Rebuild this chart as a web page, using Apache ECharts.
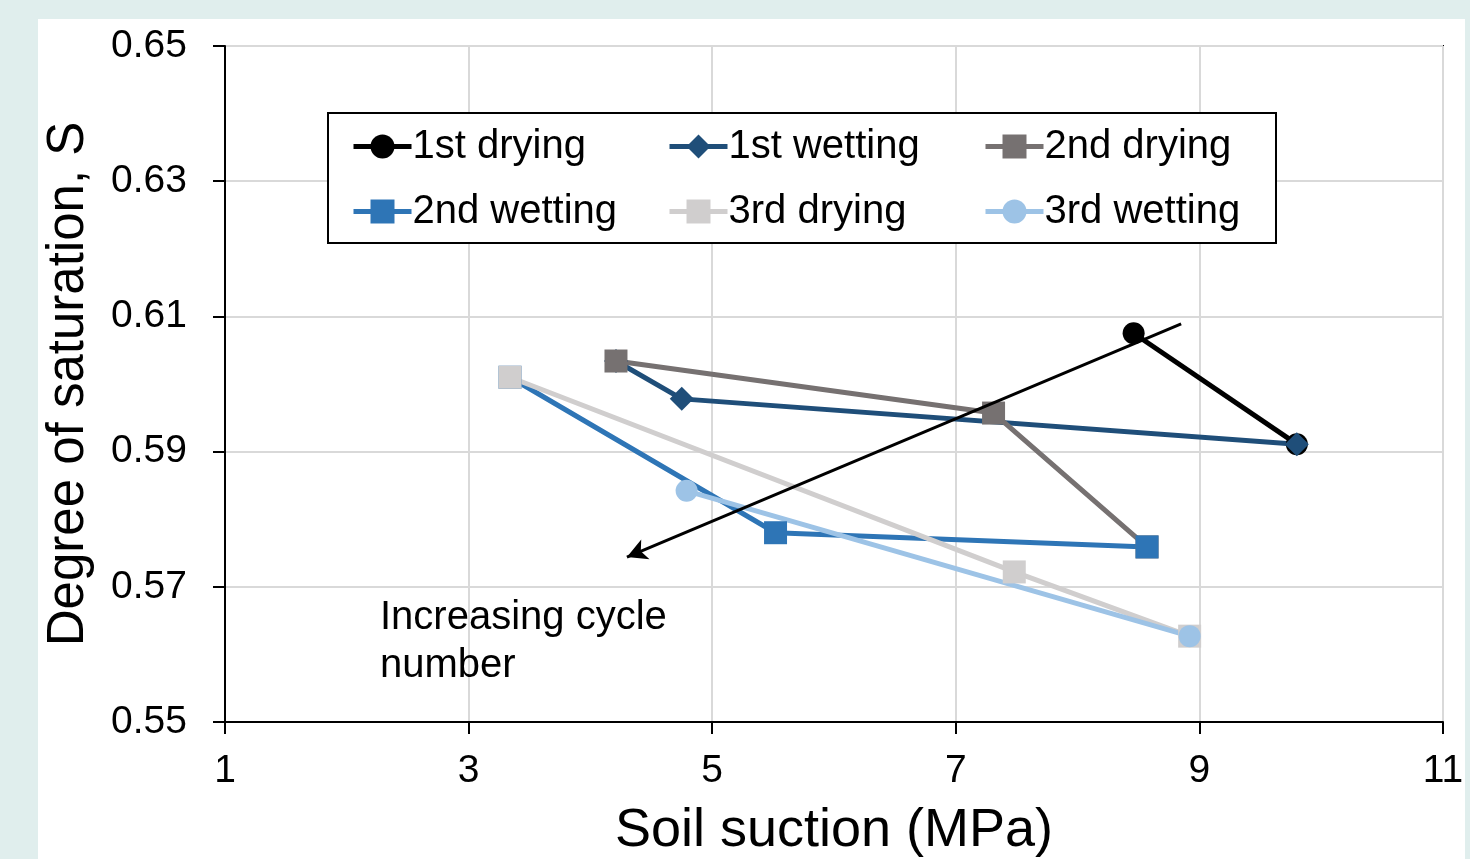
<!DOCTYPE html>
<html>
<head>
<meta charset="utf-8">
<script src="https://cdn.jsdelivr.net/npm/echarts@6/dist/echarts.min.js"></script>
<style>
html,body{margin:0;padding:0;background:#e0eeed;}
#c{width:1470px;height:859px;}
</style>
</head>
<body>
<div id="c"></div>
<script>
// Data (x: soil suction MPa, y: degree of saturation)
var dry1 = [[8.46, 0.6075], [9.80, 0.5911]];
var wet1 = [[9.80, 0.5911], [4.75, 0.5978], [4.21, 0.6034]];
var dry2 = [[4.21, 0.6034], [7.31, 0.5957], [8.57, 0.5759]];
var wet2 = [[8.57, 0.5759], [5.52, 0.5780], [3.34, 0.6010]];
var dry3 = [[3.34, 0.6010], [7.48, 0.5722], [8.92, 0.5627]];
var wet3 = [[8.92, 0.5627], [4.79, 0.5842]];
var arrowLine = [[8.85, 0.6089], [4.30, 0.5744]];
var seriesNames = ['1st drying', '1st wetting', '2nd drying', '2nd wetting', '3rd drying', '3rd wetting'];
var annotationText = 'Increasing cycle\nnumber';

var F = '"Liberation Sans", Arial, sans-serif';
var chart = echarts.init(document.getElementById('c'), null, {renderer: 'canvas'});

function mk(name, data, color, symbol, size) {
  return {
    name: name, type: 'line', data: data, z: 3,
    symbol: symbol, symbolSize: size, showSymbol: true,
    lineStyle: {color: color, width: 5},
    itemStyle: {color: color},
    emphasis: {disabled: true},
    animation: false
  };
}

var legendCommon = {
  orient: 'vertical', itemWidth: 58, itemHeight: 30, itemGap: 20,
  z: 20,
  lineStyle: {width: 5},
  textStyle: {fontFamily: F, fontSize: 40, color: '#000', lineHeight: 45, padding: [0,0,0,-4]},
  selectedMode: false
};

var option = {
  backgroundColor: '#e0eeed',
  animation: false,
  grid: {left: 225, right: 27, top: 46, bottom: 137, containLabel: false, outerBoundsMode: 'none',
         show: true, borderColor: '#000', borderWidth: 2, backgroundColor: 'transparent'},
  xAxis: {
    type: 'value', min: 1, max: 11, interval: 2,
    name: 'Soil suction (MPa)', nameLocation: 'middle', nameGap: 82,
    nameTextStyle: {fontFamily: F, fontSize: 54, color: '#000'},
    axisLine: {show: true, lineStyle: {color: '#000', width: 2}},
    axisTick: {show: true, length: 12, lineStyle: {color: '#000', width: 2}},
    axisLabel: {fontFamily: F, fontSize: 39, color: '#000', margin: 30},
    splitLine: {show: true, lineStyle: {color: '#d9d9d9', width: 2}}
  },
  yAxis: {
    type: 'value', min: 0.55, max: 0.65, interval: 0.02,
    name: 'Degree of saturation, S', nameLocation: 'middle', nameGap: 131,
    nameTextStyle: {fontFamily: F, fontSize: 51, color: '#000'},
    axisLine: {show: true, lineStyle: {color: '#000', width: 2}},
    axisTick: {show: true, length: 12, lineStyle: {color: '#000', width: 2}},
    axisLabel: {fontFamily: F, fontSize: 39, color: '#000', margin: 38, formatter: function(v){return v.toFixed(2);}},
    splitLine: {show: true, lineStyle: {color: '#d9d9d9', width: 2}}
  },
  legend: [
    Object.assign({}, legendCommon, {left: 346, top: 119, data: ['1st drying', '2nd wetting']}),
    Object.assign({}, legendCommon, {left: 662, top: 119, data: ['1st wetting', '3rd drying']}),
    Object.assign({}, legendCommon, {left: 978, top: 119, data: ['2nd drying', '3rd wetting']})
  ],
  graphic: [
    {type: 'rect', z: -10, silent: true, shape: {x: 38, y: 19, width: 1427, height: 840}, style: {fill: '#ffffff'}},
    {type: 'rect', z: 1, silent: true, shape: {x: 328, y: 113, width: 948, height: 130}, style: {fill: '#ffffff', stroke: '#000', lineWidth: 2}},
    {type: 'text', z: 6, left: 380, top: 594, silent: true, style: {text: annotationText, fontFamily: F, fontSize: 40, fill: '#000', lineHeight: 48}}
  ],
  series: [
    mk(seriesNames[0], dry1, '#000000', 'circle', 22),
    mk(seriesNames[1], wet1, '#1f4e79', 'diamond', 24),
    mk(seriesNames[2], dry2, '#767171', 'rect', 23),
    mk(seriesNames[3], wet2, '#2e75b6', 'rect', 23),
    mk(seriesNames[4], dry3, '#d0cece', 'rect', 23),
    mk(seriesNames[5], wet3, '#9dc3e6', 'circle', 22),
    {
      type: 'line', data: [], silent: true, z: 6,
      markLine: {
        silent: true, animation: false,
        symbol: ['none', 'arrow'], symbolSize: [16, 20],
        label: {show: false},
        lineStyle: {color: '#000', width: 3, type: 'solid'},
        emphasis: {disabled: true},
        data: [[{coord: arrowLine[0]}, {coord: arrowLine[1]}]]
      }
    }
  ]
};
chart.setOption(option);
</script>
</body>
</html>
